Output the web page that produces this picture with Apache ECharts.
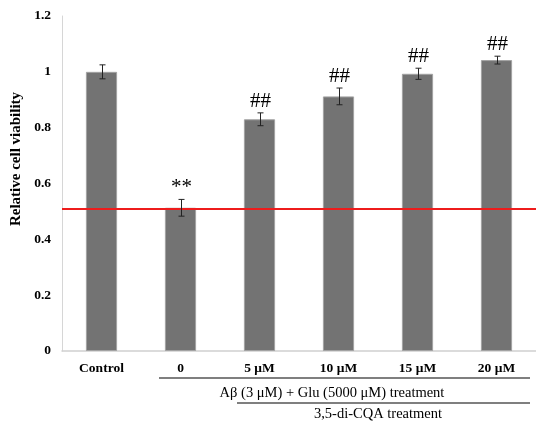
<!DOCTYPE html>
<html>
<head>
<meta charset="utf-8">
<style>
  html, body { margin: 0; padding: 0; background: #fff; }
  #chart { width: 536px; height: 423px; }
</style>
<script src="https://cdn.jsdelivr.net/npm/echarts@6/dist/echarts.min.js"></script>
</head>
<body>
<div id="chart"></div>
<script>
// Cell viability after Aβ + Glu insult with 3,5-di-CQA treatment
const categories = ['Control', '0', '5 μM', '10 μM', '15 μM', '20 μM'];
const viability = [1.0, 0.513, 0.830, 0.912, 0.993, 1.042];
const errors = [0.025, 0.03, 0.023, 0.03, 0.02, 0.014];
const marks = ['', '**', '##', '##', '##', '##'];
const referenceLine = 0.513;
const yTicks = { min: 0, max: 1.2, interval: 0.2 };

const serif = '"Liberation Serif", "Times New Roman", serif';

const chart = echarts.init(document.getElementById('chart'));

const errorData = viability.map((v, i) => [i, v - errors[i], v + errors[i], marks[i]]);

chart.setOption({
  animation: false,
  grid: { left: 62, top: 16, bottom: 72, width: 478 },
  xAxis: {
    type: 'category',
    data: categories,
    axisLine: { lineStyle: { color: '#cfcfcf', width: 1.5 } },
    axisTick: { show: false },
    axisLabel: {
      color: '#000', fontFamily: serif, fontWeight: 'bold', fontSize: 13.5, margin: 11
    }
  },
  yAxis: {
    type: 'value',
    min: yTicks.min, max: yTicks.max, interval: yTicks.interval,
    axisLine: { show: true, lineStyle: { color: '#d6d6d6', width: 1 } },
    axisTick: { show: false },
    splitLine: { show: false },
    axisLabel: { color: '#000', fontFamily: serif, fontWeight: 'bold', fontSize: 13.5, margin: 11 }
  },
  series: [
    {
      type: 'bar',
      data: viability,
      barWidth: '39.5%',
      itemStyle: { color: '#737373', borderColor: '#a3a3a3', borderWidth: 1 },
      markLine: {
        silent: true,
        symbol: 'none',
        label: { show: false },
        lineStyle: { color: '#ee1c1c', width: 2, type: 'solid' },
        data: [{ yAxis: referenceLine }]
      },
      z: 2
    },
    {
      type: 'custom',
      data: errorData,
      encode: { x: 0, y: [1, 2] },
      z: 5,
      renderItem: function (params, api) {
        const i = api.value(0);
        const lo = api.coord([i, api.value(1)]);
        const hi = api.coord([i, api.value(2)]);
        const x = Math.round(lo[0]) + 0.5;
        const cap = 3;
        const style = { stroke: '#222', lineWidth: 1 };
        const children = [
          { type: 'line', shape: { x1: x, y1: hi[1], x2: x, y2: lo[1] }, style: style },
          { type: 'line', shape: { x1: x - cap, y1: hi[1], x2: x + cap, y2: hi[1] }, style: style },
          { type: 'line', shape: { x1: x - cap, y1: lo[1], x2: x + cap, y2: lo[1] }, style: style }
        ];
        const txt = api.value(3);
        if (txt) {
          children.push({
            type: 'text',
            x: x,
            y: hi[1] - 1,
            style: {
              text: txt,
              fill: '#000',
              font: (txt === '**' ? '21px ' : '21px ') + serif,
              align: 'center',
              verticalAlign: 'bottom'
            }
          });
        }
        return { type: 'group', children: children };
      }
    }
  ],
  graphic: [
    {
      type: 'text', x: 16, y: 159, rotation: Math.PI / 2,
      style: {
        text: 'Relative cell viability', font: 'bold 15px ' + serif, fill: '#000',
        align: 'center', verticalAlign: 'middle'
      }
    },
    { type: 'line', shape: { x1: 159, y1: 378, x2: 530, y2: 378 }, style: { stroke: '#000', lineWidth: 1.2 } },
    {
      type: 'text', x: 332, y: 393,
      style: { text: 'Aβ (3 μM) + Glu (5000 μM) treatment', font: '14.5px ' + serif, fill: '#000', align: 'center', verticalAlign: 'middle' }
    },
    { type: 'line', shape: { x1: 237, y1: 403, x2: 530, y2: 403 }, style: { stroke: '#000', lineWidth: 1.2 } },
    {
      type: 'text', x: 378, y: 414,
      style: { text: '3,5-di-CQA treatment', font: '14.5px ' + serif, fill: '#000', align: 'center', verticalAlign: 'middle' }
    }
  ]
});
</script>
</body>
</html>
